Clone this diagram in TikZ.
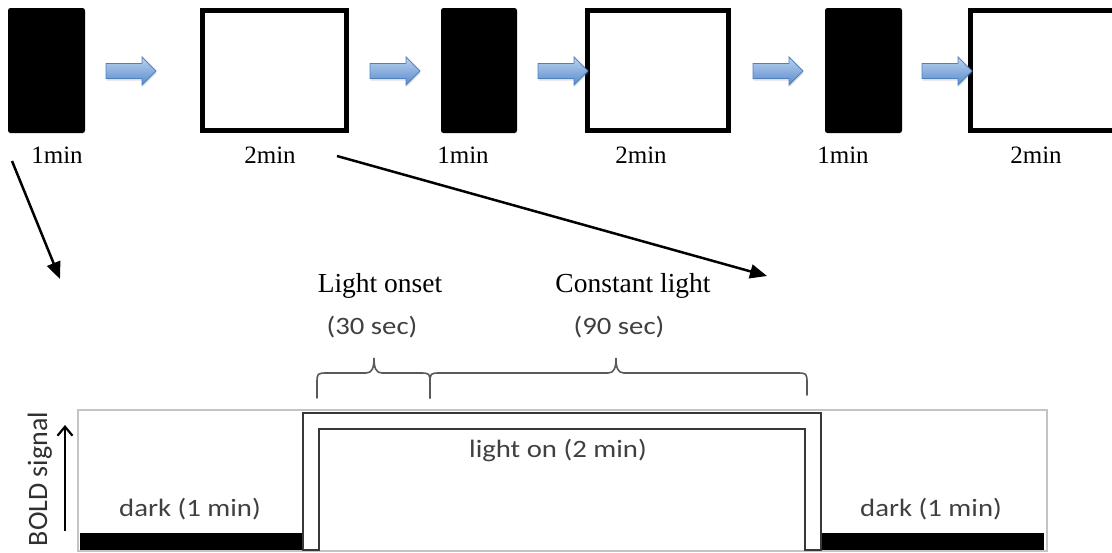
\documentclass[tikz,border=0pt]{standalone}
\usepackage{fontspec}
\setmainfont{Liberation Serif}
\newfontfamily\calib{Carlito}
\usetikzlibrary{arrows.meta,shadows}

\definecolor{ink}{HTML}{404040}
\definecolor{boldink}{HTML}{303030}
\definecolor{bracegray}{HTML}{5A5A5A}
\definecolor{framegray}{HTML}{C4C4C4}
\definecolor{stepgray}{HTML}{383838}
\definecolor{arrowtop}{HTML}{BCD3EF}
\definecolor{arrowbot}{HTML}{5A8BCC}
\definecolor{arrowedge}{HTML}{4F81BD}

\tikzset{
  darkbox/.style={fill=black, rounded corners=2.5pt, minimum width=77pt, minimum height=125pt, inner sep=0pt},
  lightbox/.style={draw=black, line width=5pt, fill=white, minimum height=120pt, inner sep=0pt},
  lab/.style={font=\fontsize{25}{30}\selectfont, inner sep=0pt, anchor=base},
  head/.style={font=\fontsize{27.5}{32}\selectfont, inner sep=0pt, anchor=base},
  note/.style={font=\calib\fontsize{25}{30}\selectfont, text=ink, inner sep=0pt, anchor=base},
  bigarrow/.style={line width=2.5pt, -{Triangle[length=17pt,width=14pt]}},
  bracepen/.style={draw=bracegray, line width=1.6pt, line cap=round},
  stepline/.style={draw=stepgray, line width=2pt, line join=miter},
  flow/.pic={
    \shadedraw[draw=arrowedge, line width=0.8pt, top color=arrowtop, bottom color=arrowbot,
      drop shadow={shadow xshift=0.6pt, shadow yshift=-2pt, opacity=0.25}]
      (0,-7.5) -- (36,-7.5) -- (36,-14) -- (50,0) -- (36,14) -- (36,7.5) -- (0,7.5) -- cycle;
  }
}

\begin{document}
\begin{tikzpicture}[x=1pt,y=-1pt]
\useasboundingbox (0,0) rectangle (1112,552);

% ---- stimulus sequence ----
\begin{scope}
\clip (0,0) rectangle (1112,552);
\node[darkbox] (d1) at (46.5,70.5) {};
\node[lightbox, minimum width=144pt] (w1) at (274.5,70.5) {};
\node[darkbox, minimum width=76pt] (d2) at (479,70.5) {};
\node[lightbox, minimum width=141pt] (w2) at (658,70.5) {};
\node[darkbox] (d3) at (863.5,70.5) {};
\node[lightbox, minimum width=145pt] (w3) at (1043,70.5) {};
\end{scope}

\pic at (106,71) {flow};
\pic at (370,71) {flow};
\pic at (538,71) {flow};
\pic at (753,71) {flow};
\pic at (922,71) {flow};

\node[lab] (t1) at (57,163) {1min};
\node[lab] (t2) at (270,163) {2min};
\node[lab] (t3) at (463,163) {1min};
\node[lab] (t4) at (641,163) {2min};
\node[lab] (t5) at (843,163) {1min};
\node[lab] (t6) at (1036,163) {2min};

% ---- zoom-in arrows ----
\coordinate (a1s) at (12,161);
\coordinate (a1e) at (60,279);
\coordinate (a2s) at (337,156);
\coordinate (a2e) at (767,276);
\draw[bigarrow] (a1s) -- (a1e);
\draw[bigarrow] (a2s) -- (a2e);

% ---- phase headings ----
\node[head] (h1) at (380,292) {Light onset};
\node[head] (h2) at (633,292) {Constant light};
\node[note] (s1) at (372,334) {\scalebox{1.15}[1]{(30 sec)}};
\node[note] (s2) at (619,334) {\scalebox{1.15}[1]{(90 sec)}};

% braces
\draw[bracepen] (317,398) -- (317,384) .. controls (317,373) .. (328,373) -- (366,373)
  .. controls (372,373) and (374,368) .. (374,358)
  .. controls (374,368) and (376,373) .. (382,373) -- (419,373)
  .. controls (430,373) .. (430,384) -- (430,398);
\draw[bracepen] (430,398) -- (430,384) .. controls (430,373) .. (441,373) -- (608,373)
  .. controls (614,373) and (616,368) .. (616,358)
  .. controls (616,368) and (618,373) .. (624,373) -- (796,373)
  .. controls (807,373) .. (807,384) -- (807,395);

% ---- BOLD response ----
\draw[framegray, line width=1.2pt] (78,410) rectangle (1047,551);
\fill[black] (80,533) rectangle (303,550);
\fill[black] (821,533) rectangle (1044,550);
\draw[stepline] (303,550) -- (303,413) -- (821,413) -- (821,550) -- (805,550)
  -- (805,429) -- (319,429) -- (319,550) -- cycle;

\draw[line width=2.2pt, -{Straight Barb[length=9pt,width=15pt]}] (65,531) -- (65,425);
\node[font=\calib\fontsize{28}{32}\selectfont, text=boldink, inner sep=0pt, anchor=base, rotate=90]
  (ylab) at (47,479) {BOLD signal};

\node[note] (n1) at (190,516) {\scalebox{1.15}[1]{dark (1 min)}};
\node[note] (n2) at (558,457) {\scalebox{1.15}[1]{light on (2 min)}};
\node[note] (n3) at (931,516) {\scalebox{1.15}[1]{dark (1 min)}};
\end{tikzpicture}
\end{document}
